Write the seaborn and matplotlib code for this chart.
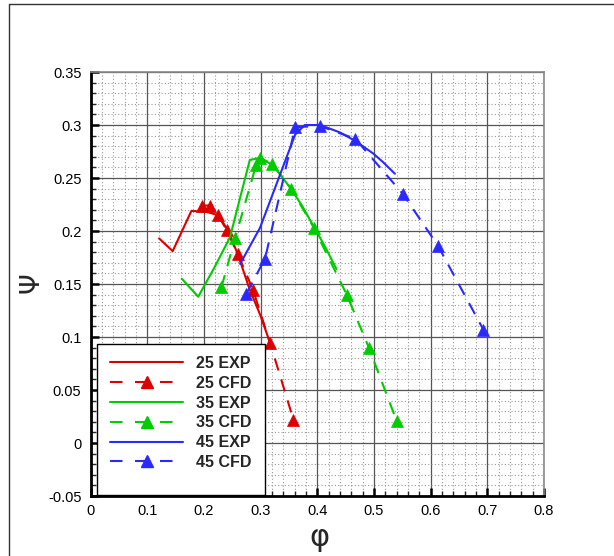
import numpy as np
import pandas as pd
import matplotlib
matplotlib.use("Agg")
import matplotlib.pyplot as plt
from matplotlib.lines import Line2D
from matplotlib.patches import Rectangle
from matplotlib.ticker import MultipleLocator, FuncFormatter
import seaborn as sns

# flow coefficient (phi) / head coefficient (psi)
exp25_phi = [0.121, 0.145, 0.178, 0.205, 0.225, 0.241, 0.260, 0.280, 0.300, 0.317]
exp25_psi = [0.193, 0.181, 0.219, 0.218, 0.215, 0.202, 0.178, 0.146, 0.120, 0.094]
cfd25_phi = [0.197, 0.211, 0.225, 0.240, 0.260, 0.287, 0.317, 0.358]
cfd25_psi = [0.224, 0.224, 0.215, 0.201, 0.178, 0.144, 0.094, 0.022]

exp35_phi = [0.161, 0.190, 0.218, 0.246, 0.281, 0.299, 0.322, 0.352, 0.373, 0.393, 0.414, 0.434]
exp35_psi = [0.155, 0.138, 0.165, 0.194, 0.267, 0.269, 0.262, 0.241, 0.224, 0.205, 0.185, 0.164]
cfd35_phi = [0.231, 0.255, 0.292, 0.299, 0.321, 0.354, 0.394, 0.452, 0.491, 0.540]
cfd35_psi = [0.147, 0.193, 0.262, 0.269, 0.263, 0.240, 0.203, 0.140, 0.090, 0.021]

exp45_phi = [0.264, 0.299, 0.361, 0.378, 0.405, 0.440, 0.467, 0.499, 0.516, 0.537]
exp45_psi = [0.169, 0.203, 0.291, 0.300, 0.300, 0.293, 0.285, 0.273, 0.265, 0.254]
cfd45_phi = [0.275, 0.308, 0.361, 0.405, 0.467, 0.551, 0.613, 0.693]
cfd45_psi = [0.141, 0.174, 0.298, 0.299, 0.287, 0.235, 0.186, 0.107]

labels = ["25 EXP", "25 CFD", "35 EXP", "35 CFD", "45 EXP", "45 CFD"]
red, green, blue = "#dd0000", "#00cc00", "#2a2aff"

sns.set_style("white")
plt.rcParams["font.family"] = ["Liberation Sans", "DejaVu Sans"]

fig = plt.figure(figsize=(6.14, 5.56), dpi=100)
ax = fig.add_axes([0.1474, 0.1079, 0.7386, 0.7626])

# outer frame (top and left edges visible)
fig.add_artist(Line2D([9 / 614, 1], [1 - 4 / 556, 1 - 4 / 556], transform=fig.transFigure, color="#333333", lw=1))
fig.add_artist(Line2D([9 / 614, 9 / 614], [0, 1 - 4 / 556], transform=fig.transFigure, color="#333333", lw=1))

series = [
    (exp25_phi, exp25_psi, red, False),
    (cfd25_phi, cfd25_psi, red, True),
    (exp35_phi, exp35_psi, green, False),
    (cfd35_phi, cfd35_psi, green, True),
    (exp45_phi, exp45_psi, blue, False),
    (cfd45_phi, cfd45_psi, blue, True),
]

dash = (0, (6, 4.5))
for phi, psi, color, cfd in series:
    df = pd.DataFrame({"phi": phi, "psi": psi})
    if cfd:
        sns.lineplot(data=df, x="phi", y="psi", sort=False, estimator=None, color=color,
                     linewidth=1.5, linestyle=dash, marker="^", markersize=9,
                     markeredgecolor=color, markeredgewidth=0.5, ax=ax)
    else:
        sns.lineplot(data=df, x="phi", y="psi", sort=False, estimator=None, color=color,
                     linewidth=1.5, ax=ax)

ax.set_xlim(0, 0.8)
ax.set_ylim(-0.05, 0.35)
ax.xaxis.set_major_locator(MultipleLocator(0.1))
ax.xaxis.set_minor_locator(MultipleLocator(0.02))
ax.yaxis.set_major_locator(MultipleLocator(0.05))
ax.yaxis.set_minor_locator(MultipleLocator(0.01))
fmt = FuncFormatter(lambda v, p: "%g" % round(v, 2))
ax.xaxis.set_major_formatter(fmt)
ax.yaxis.set_major_formatter(fmt)

ax.set_axisbelow(True)
ax.grid(which="major", color="#555555", lw=0.9, ls="-")
ax.grid(which="minor", color="#999999", lw=0.8, ls=(0, (1, 2)))

ax.tick_params(which="major", direction="in", length=6, width=1.8, bottom=True, left=True,
               top=False, right=False, labelsize=10.5, colors="black")
ax.tick_params(axis="y", which="major", pad=6.5)
ax.tick_params(axis="x", which="major", pad=6)
ax.tick_params(which="minor", direction="in", length=3.5, width=1, bottom=True, left=True,
               top=False, right=False)

for s in ["left", "bottom"]:
    ax.spines[s].set_linewidth(2)
    ax.spines[s].set_color("black")
for s in ["top", "right"]:
    ax.spines[s].set_linewidth(1.2)
    ax.spines[s].set_color("#888888")

ax.set_xlabel("")
ax.set_ylabel("")
fig.text(32 / 614, 1 - 283 / 556, "Ψ", fontsize=19, rotation=90, ha="center", va="center", family="DejaVu Sans")
fig.text(319 / 614, 1 - 538 / 556, "φ", fontsize=22, ha="center", va="center", family="DejaVu Sans")

# legend box drawn by hand, entries placed on top
ax.add_patch(Rectangle((0.0137, 0.0024), 0.371, 0.356, transform=ax.transAxes, facecolor="white",
                       edgecolor="black", lw=1, zorder=4, clip_on=False))
handles = []
for phi, psi, color, cfd in series:
    if cfd:
        handles.append(Line2D([], [], color=color, lw=1.5, ls=(0, (6, 6)), marker="^",
                              markersize=9, markeredgecolor=color))
    else:
        handles.append(Line2D([], [], color=color, lw=1.5))
leg = ax.legend(handles, labels, loc="upper left", bbox_to_anchor=(0.043, 0.330), borderaxespad=0,
                frameon=False, prop={"weight": "bold", "size": 11.5}, handlelength=4.6,
                handletextpad=0.8, labelspacing=0.30, borderpad=0, numpoints=1)
leg.set_zorder(5)

fig.savefig("out.png", dpi=100)
